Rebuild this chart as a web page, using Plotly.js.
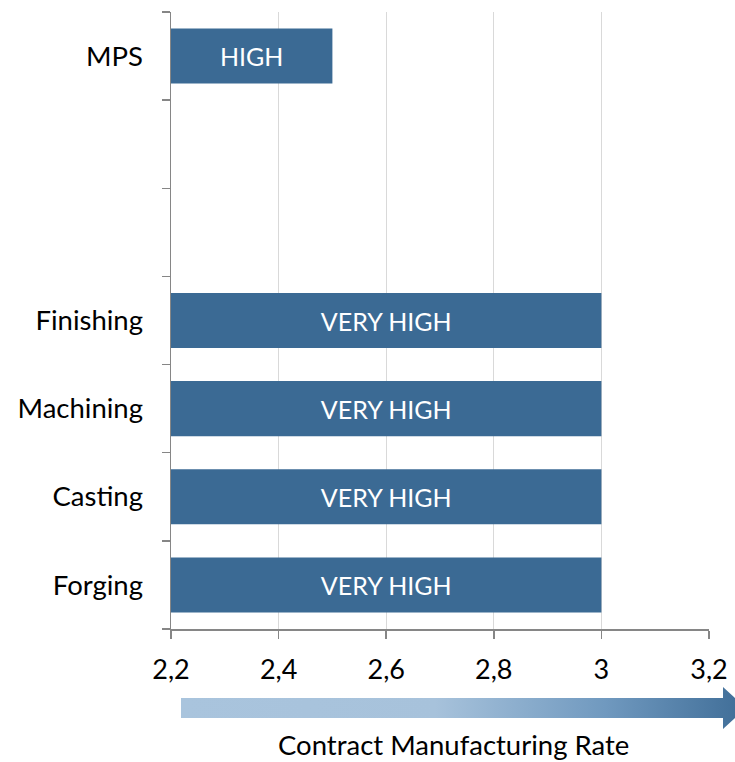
<!DOCTYPE html>
<html>
<head>
<meta charset="utf-8">
<script src="https://cdn.plot.ly/plotly-3.0.1.min.js"></script>
<style>html,body{margin:0;padding:0;background:#fff;}#chart{width:735px;height:762px;}</style>
</head>
<body>
<div id="chart"></div>
<script>
// Data
var categories = ['Forging', 'Casting', 'Machining', 'Finishing', ' ', '  ', 'MPS'];
var rates = [3.0, 3.0, 3.0, 3.0, null, null, 2.5];
var labels = ['VERY HIGH', 'VERY HIGH', 'VERY HIGH', 'VERY HIGH', '', '', 'HIGH'];
var xTickVals = [2.2, 2.4, 2.6, 2.8, 3.0, 3.2];
var axisStart = 2.2;
var axisTitle = 'Contract Manufacturing Rate';

// decorative arrow outline (in its own pixel-like axis units)
var arrowX = [0, 542, 542, 565, 542, 542, 0, 0];
var arrowY = [11, 11, 0, 21, 42, 31, 31, 11];

var FONT = 'Lato, "Open Sans", sans-serif';

var bars = {
  type: 'bar',
  orientation: 'h',
  y: categories,
  base: axisStart,
  x: rates.map(function (v) { return v === null ? null : v - axisStart; }),
  text: labels,
  textposition: 'inside',
  insidetextanchor: 'middle',
  textfont: {family: FONT, size: 25, color: '#ffffff'},
  marker: {color: '#3b6a94'},
  width: 0.625,
  hoverinfo: 'none',
  cliponaxis: true
};

var arrow = {
  type: 'scatter',
  mode: 'lines',
  x: arrowX,
  y: arrowY,
  xaxis: 'x2',
  yaxis: 'y2',
  fill: 'toself',
  line: {width: 0, color: 'rgba(0,0,0,0)'},
  fillcolor: '#a9c4dd',
  fillgradient: {
    type: 'horizontal',
    colorscale: [[0, '#a9c4dd'], [0.45, '#a7c2db'], [0.75, '#7099bf'], [1, '#3f6d97']]
  },
  hoverinfo: 'none'
};

var W = 735, H = 762;
var mL = 171, mR = 0, mT = 12, mB = 0;
var pw = W - mL - mR, ph = H - mT - mB;

var layout = {
  width: W, height: H,
  margin: {l: mL, r: mR, t: mT, b: mB, pad: 0},
  paper_bgcolor: '#ffffff',
  plot_bgcolor: '#ffffff',
  separators: ',.',
  showlegend: false,
  font: {family: FONT, size: 26, color: '#000000'},
  xaxis: {
    domain: [0, 538 / pw],
    range: [2.2, 3.2],
    tickvals: xTickVals,
    showgrid: true,
    gridcolor: '#d9d9d9',
    gridwidth: 1.3,
    showline: true,
    linecolor: '#868686',
    linewidth: 1.5,
    ticks: 'outside',
    ticklen: 8,
    tickwidth: 1.5,
    tickcolor: '#868686',
    ticklabelstandoff: 8,
    tickfont: {family: FONT, size: 27, color: '#000000'},
    zeroline: false,
    fixedrange: true,
    anchor: 'y'
  },
  yaxis: {
    domain: [(H - 629) / ph, 1],
    type: 'category',
    categoryorder: 'array',
    categoryarray: categories,
    range: [-0.5, 6.5],
    tickson: 'boundaries',
    ticks: 'outside',
    ticklen: 8,
    tickwidth: 1.5,
    tickcolor: '#868686',
    showline: true,
    linecolor: '#868686',
    linewidth: 1.5,
    showgrid: false,
    ticklabelstandoff: 21,
    tickfont: {family: FONT, size: 27.5, color: '#000000'},
    fixedrange: true,
    anchor: 'x'
  },
  xaxis2: {
    domain: [10 / pw, 1],
    range: [0, 554],
    visible: false,
    fixedrange: true,
    anchor: 'y2'
  },
  yaxis2: {
    domain: [(H - 729) / ph, (H - 687) / ph],
    range: [0, 42],
    visible: false,
    fixedrange: true,
    anchor: 'x2'
  },
  annotations: [{
    text: axisTitle,
    xref: 'paper', yref: 'paper',
    x: (453 - mL) / pw, y: 0,
    xanchor: 'center', yanchor: 'bottom',
    borderpad: 0,
    showarrow: false,
    font: {family: FONT, size: 27.5, color: '#000000'}
  }]
};

Plotly.newPlot('chart', [bars, arrow], layout, {displayModeBar: false, staticPlot: true});
</script>
</body>
</html>
